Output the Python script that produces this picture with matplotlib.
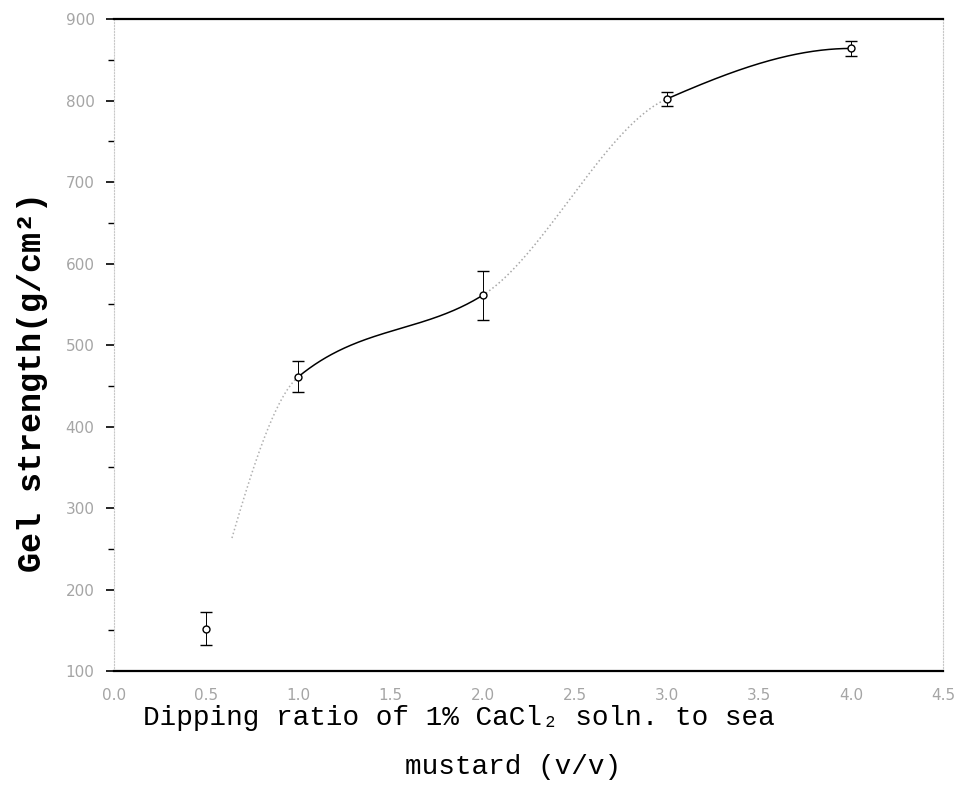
import matplotlib
matplotlib.use("Agg")
import matplotlib.pyplot as plt
import numpy as np

# dipping ratio (v/v) vs gel strength (g/cm2), mean +/- sd
ratio = np.array([0.5, 1.0, 2.0, 3.0, 4.0])
strength = np.array([152, 461, 561, 802, 864])
err = np.array([20, 19, 30, 9, 9])

x_ticks = [0.0, 0.5, 1.0, 1.5, 2.0, 2.5, 3.0, 3.5, 4.0, 4.5]
y_ticks = [100, 200, 300, 400, 500, 600, 700, 800, 900]


def pchip(x, y, xs):
    """Monotone cubic (Fritsch-Carlson) through the points."""
    h = np.diff(x)
    d = np.diff(y) / h
    m = np.zeros_like(y, dtype=float)
    for k in range(1, len(x) - 1):
        if d[k - 1] * d[k] > 0:
            w1 = 2 * h[k] + h[k - 1]
            w2 = h[k] + 2 * h[k - 1]
            m[k] = (w1 + w2) / (w1 / d[k - 1] + w2 / d[k])
    m[0] = ((2 * h[0] + h[1]) * d[0] - h[0] * d[1]) / (h[0] + h[1])
    m[-1] = ((2 * h[-1] + h[-2]) * d[-1] - h[-1] * d[-2]) / (h[-1] + h[-2])
    # keep the end slopes from overshooting
    if m[0] * d[0] < 0:
        m[0] = 0
    if m[-1] * d[-1] < 0:
        m[-1] = 0
    idx = np.clip(np.searchsorted(x, xs) - 1, 0, len(x) - 2)
    t = (xs - x[idx]) / h[idx]
    h00 = 2 * t**3 - 3 * t**2 + 1
    h10 = t**3 - 2 * t**2 + t
    h01 = -2 * t**3 + 3 * t**2
    h11 = t**3 - t**2
    return (h00 * y[idx] + h10 * h[idx] * m[idx]
            + h01 * y[idx + 1] + h11 * h[idx] * m[idx + 1])


fig = plt.figure(figsize=(9.64, 7.96), dpi=100)
ax = fig.add_axes([0.1183, 0.157, 0.86, 0.819])

# fitted curve: faint where the trace is light, solid elsewhere
segments = [((0.64, 1.0), '#b0b0b0', ':'), ((1.0, 2.0), 'black', '-'),
            ((2.0, 3.0), '#a8a8a8', ':'), ((3.0, 4.0), 'black', '-')]
for (a, b), col, ls in segments:
    xs = np.linspace(a, b, 200)
    ax.plot(xs, pchip(ratio, strength.astype(float), xs), color=col,
            ls=ls, lw=1.1)

ax.errorbar(ratio, strength, yerr=err, fmt='o', ms=5, mfc='white',
            mec='black', mew=1.0, ecolor='black', elinewidth=0.7,
            capsize=4, capthick=1.6)

ax.set_xlim(0, 4.5)
ax.set_ylim(100, 900)
ax.set_xticks(x_ticks)
ax.set_xticklabels([f"{v:.1f}" for v in x_ticks])
ax.set_yticks(y_ticks)
ax.set_yticks(np.arange(150, 900, 100), minor=True)

ax.tick_params(axis='x', length=0, pad=12, labelsize=11, labelcolor='#a5a5a5')
ax.tick_params(axis='y', which='major', direction='out', length=6, width=1.2,
               pad=8, labelsize=11, labelcolor='#a5a5a5')
ax.tick_params(axis='y', which='minor', direction='out', length=4, width=1.0)

for side in ['top', 'bottom']:
    ax.spines[side].set_linewidth(1.6)
for side in ['left', 'right']:
    ax.spines[side].set_color('#c8c8c8')
    ax.spines[side].set_linestyle(':')
    ax.spines[side].set_linewidth(0.8)

ax.set_ylabel("Gel strength(g/cm\u00b2)", family=['Liberation Mono', 'DejaVu Sans'],
              fontweight='bold', fontsize=24)
ax.yaxis.set_label_coords(-0.080, 0.443)

fig.text(0.476, 0.098, "Dipping ratio of 1% CaCl\u2082 soln. to sea",
         family=['Liberation Mono', 'DejaVu Sans'], fontsize=20,
         ha='center', va='center')
fig.text(0.532, 0.037, "mustard (v/v)",
         family=['Liberation Mono', 'DejaVu Sans'], fontsize=20,
         ha='center', va='center')

fig.savefig("out.png", dpi=100)
